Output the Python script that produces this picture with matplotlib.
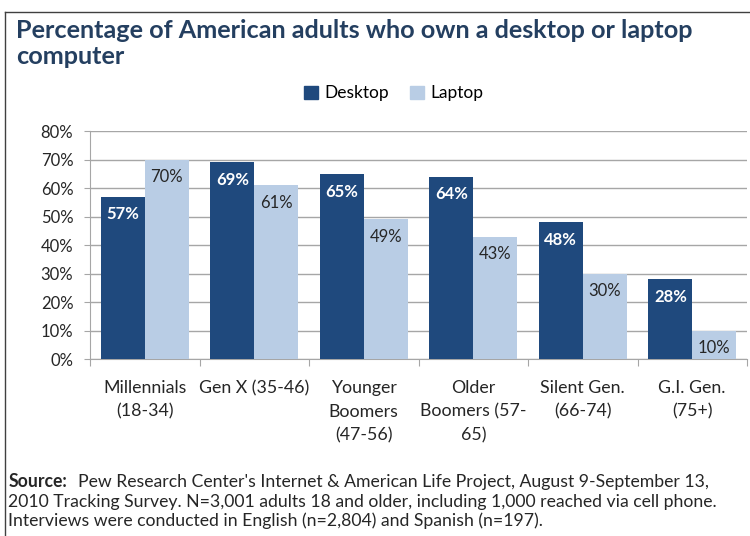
import numpy as np
import matplotlib
matplotlib.use("Agg")
import matplotlib.pyplot as plt
from matplotlib.lines import Line2D
from matplotlib.patches import Patch

categories = ["Millennials\n(18-34)", "Gen X (35-46)", "Younger\nBoomers\n(47-56)",
              "Older\nBoomers (57-\n65)", "Silent Gen.\n(66-74)", "G.I. Gen.\n(75+)"]
desktop = [57, 69, 65, 64, 48, 28]
laptop = [70, 61, 49, 43, 30, 10]
yticks = [0, 10, 20, 30, 40, 50, 60, 70, 80]

DARK = "#1F497D"
LIGHT = "#B9CDE5"
TEXT = "#262626"

plt.rcParams["font.family"] = ["Lato", "DejaVu Sans"]

fig = plt.figure(figsize=(7.5, 5.36), dpi=100)
ax = fig.add_axes([0.12, 0.330, 0.876, 0.4254])

x = np.arange(len(categories))
w = 0.4
b1 = ax.bar(x - w / 2, desktop, w, color=DARK, zorder=3)
b2 = ax.bar(x + w / 2, laptop, w, color=LIGHT, zorder=3)

for rect, v in zip(b1, desktop):
    ax.annotate(f"{v}%", (rect.get_x() + rect.get_width() / 2, v),
                xytext=(0, -7), textcoords="offset points",
                ha="center", va="top", color="white", fontsize=12, fontweight="bold")
for rect, v in zip(b2, laptop):
    ax.annotate(f"{v}%", (rect.get_x() + rect.get_width() / 2, v),
                xytext=(0, -7), textcoords="offset points",
                ha="center", va="top", color=TEXT, fontsize=12)

ax.set_xlim(-0.5, len(categories) - 0.5)
ax.set_ylim(0, 80)
ax.set_yticks(yticks)
ax.set_yticklabels([f"{t}%" for t in yticks], fontsize=12, color=TEXT)
ax.yaxis.grid(True, color="#A6A6A6", linewidth=1, zorder=0)
ax.set_axisbelow(True)

ax.set_xticks(np.arange(len(categories) + 1) - 0.5)
ax.set_xticklabels([])
ax.tick_params(axis="x", length=5, color="#A6A6A6", direction="out")
ax.tick_params(axis="y", length=4, color="#A6A6A6", pad=8)
for i, c in enumerate(categories):
    ax.text(i, -7.5, c, ha="center", va="top", fontsize=12.8, color=TEXT,
            linespacing=1.55, transform=ax.transData)

for s in ["top", "right"]:
    ax.spines[s].set_visible(False)
for s in ["left", "bottom"]:
    ax.spines[s].set_color("#A6A6A6")

fig.text(0.022, 0.919, "Percentage of American adults who own a desktop or laptop\ncomputer",
         fontsize=18.2, fontweight="bold", color="#243F60", va="center", linespacing=1.15)

handles = [Patch(color=DARK, label="Desktop"), Patch(color=LIGHT, label="Laptop")]
fig.legend(handles=handles, loc="center", bbox_to_anchor=(0.525, 0.826), ncol=2,
           frameon=False, fontsize=12.5, handlelength=0.8, handleheight=0.8,
           columnspacing=1.2, handletextpad=0.4)

source_lines = ["Pew Research Center's Internet & American Life Project, August 9-September 13,",
                "2010 Tracking Survey. N=3,001 adults 18 and older, including 1,000 reached via cell phone.",
                "Interviews were conducted in English (n=2,804) and Spanish (n=197)."]
ys = [0.101, 0.064, 0.028]
src = fig.text(0.011, ys[0], "Source:", fontsize=12.7, color=TEXT, va="center",
               fontweight="bold")
ax.annotate(source_lines[0], xy=(1, 0.5), xycoords=src, xytext=(8, 0),
            textcoords="offset points", va="center", fontsize=12.7, color=TEXT,
            annotation_clip=False)
for yy, line in zip(ys[1:], source_lines[1:]):
    fig.text(0.011, yy, line, fontsize=12.7, color=TEXT, va="center")

fig.add_artist(Line2D([0.0067, 1], [0.9776, 0.9776], color="#404040", linewidth=1))
fig.add_artist(Line2D([0.0067, 0.0067], [0, 0.9776], color="#404040", linewidth=1))

fig.savefig("out.png", dpi=100)
